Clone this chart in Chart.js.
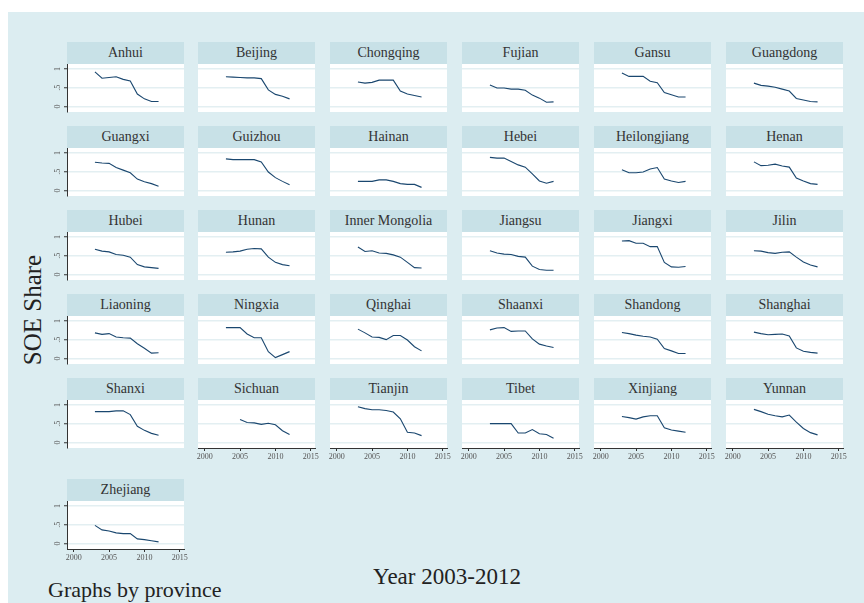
<!DOCTYPE html>
<html>
<head>
<meta charset="utf-8">
<script src="https://cdn.jsdelivr.net/npm/chart.js@4"></script>
<style>
  body { margin: 0; background: #ffffff; width: 864px; height: 603px; overflow: hidden; font-family: "Liberation Serif", serif; }
  #graph { position: absolute; left: 8px; top: 12px; width: 856px; height: 591px; background: #dcedf1; }
  .ptitle { position: absolute; height: 22px; line-height: 22px; background: #c8e1e7; text-align: center; font-size: 14px; font-weight: normal; color: #333333; }
  .panel { position: absolute; }
  .lbl { position: absolute; color: #222; white-space: nowrap; font-weight: normal; }
</style>
</head>
<body>
<div id="graph"></div>
<div class="lbl" style="left:33px; top:310px; font-size:25px; transform: translate(-50%, -50%) rotate(-90deg);">SOE Share</div>
<div class="lbl" style="left:447px; top:577px; font-size:23px; transform: translate(-50%, -50%);">Year 2003-2012</div>
<div class="lbl" style="left:48px; top:590px; font-size:22px; transform: translateY(-50%);">Graphs by province</div>
<script>
const years = [2003, 2004, 2005, 2006, 2007, 2008, 2009, 2010, 2011, 2012];
const xTicks = [2000, 2005, 2010, 2015];
const yTicks = [0, 0.5, 1];

const provinces = ["Anhui", "Beijing", "Chongqing", "Fujian", "Gansu", "Guangdong",
  "Guangxi", "Guizhou", "Hainan", "Hebei", "Heilongjiang", "Henan",
  "Hubei", "Hunan", "Inner Mongolia", "Jiangsu", "Jiangxi", "Jilin",
  "Liaoning", "Ningxia", "Qinghai", "Shaanxi", "Shandong", "Shanghai",
  "Shanxi", "Sichuan", "Tianjin", "Tibet", "Xinjiang", "Yunnan", "Zhejiang"];

const anhui = [0.92, 0.75, 0.77, 0.79, 0.72, 0.68, 0.33, 0.20, 0.13, 0.13];
const beijing = [0.79, 0.78, 0.77, 0.76, 0.76, 0.74, 0.44, 0.32, 0.27, 0.20];
const chongqing = [0.65, 0.62, 0.64, 0.70, 0.70, 0.70, 0.41, 0.33, 0.29, 0.25];
const fujian = [0.57, 0.49, 0.49, 0.46, 0.46, 0.43, 0.30, 0.22, 0.11, 0.12];
const gansu = [0.89, 0.80, 0.80, 0.80, 0.67, 0.63, 0.37, 0.31, 0.25, 0.25];
const guangdong = [0.62, 0.56, 0.54, 0.51, 0.46, 0.41, 0.21, 0.17, 0.13, 0.12];
const guangxi = [0.75, 0.73, 0.72, 0.61, 0.54, 0.47, 0.30, 0.23, 0.18, 0.11];
const guizhou = [0.84, 0.82, 0.82, 0.82, 0.82, 0.76, 0.49, 0.34, 0.24, 0.15];
const hainan = [0.24, 0.24, 0.24, 0.28, 0.28, 0.24, 0.18, 0.16, 0.16, 0.08];
const hebei = [0.88, 0.86, 0.86, 0.77, 0.68, 0.62, 0.44, 0.25, 0.19, 0.24];
const heilongjiang = [0.55, 0.47, 0.47, 0.49, 0.57, 0.61, 0.30, 0.25, 0.21, 0.24];
const henan = [0.76, 0.66, 0.67, 0.70, 0.65, 0.62, 0.33, 0.25, 0.18, 0.16];
const hubei = [0.67, 0.62, 0.60, 0.53, 0.51, 0.46, 0.26, 0.20, 0.18, 0.16];
const hunan = [0.59, 0.60, 0.62, 0.67, 0.69, 0.68, 0.46, 0.32, 0.26, 0.23];
const innerMongolia = [0.73, 0.61, 0.63, 0.57, 0.56, 0.52, 0.46, 0.32, 0.18, 0.17];
const jiangsu = [0.63, 0.57, 0.54, 0.53, 0.48, 0.46, 0.22, 0.13, 0.11, 0.11];
const jiangxi = [0.89, 0.90, 0.83, 0.83, 0.74, 0.74, 0.32, 0.20, 0.19, 0.21];
const jilin = [0.63, 0.62, 0.58, 0.56, 0.59, 0.60, 0.46, 0.33, 0.25, 0.20];
const liaoning = [0.68, 0.64, 0.66, 0.57, 0.55, 0.54, 0.39, 0.27, 0.14, 0.15];
const ningxia = [0.82, 0.82, 0.82, 0.65, 0.55, 0.55, 0.18, 0.02, 0.10, 0.18];
const qinghai = [0.78, 0.68, 0.57, 0.56, 0.50, 0.61, 0.61, 0.49, 0.31, 0.20];
const shaanxi = [0.76, 0.81, 0.82, 0.72, 0.73, 0.73, 0.52, 0.38, 0.33, 0.29];
const shandong = [0.69, 0.66, 0.62, 0.59, 0.57, 0.51, 0.26, 0.20, 0.13, 0.13];
const shanghai = [0.70, 0.66, 0.63, 0.64, 0.65, 0.60, 0.28, 0.19, 0.16, 0.14];
const shanxi = [0.82, 0.82, 0.82, 0.84, 0.84, 0.74, 0.43, 0.32, 0.24, 0.19];
const sichuan = [null, null, 0.61, 0.53, 0.52, 0.48, 0.51, 0.47, 0.31, 0.21];
const tianjin = [0.95, 0.90, 0.87, 0.87, 0.85, 0.81, 0.63, 0.27, 0.25, 0.18];
const tibet = [0.50, 0.50, 0.50, 0.50, 0.25, 0.25, 0.34, 0.23, 0.21, 0.11];
const xinjiang = [0.69, 0.66, 0.62, 0.68, 0.71, 0.71, 0.39, 0.33, 0.30, 0.27];
const yunnan = [0.88, 0.82, 0.75, 0.71, 0.68, 0.73, 0.54, 0.37, 0.26, 0.20];
const zhejiang = [0.48, 0.36, 0.33, 0.28, 0.26, 0.26, 0.12, 0.10, 0.07, 0.04];

const series = [anhui, beijing, chongqing, fujian, gansu, guangdong,
  guangxi, guizhou, hainan, hebei, heilongjiang, henan,
  hubei, hunan, innerMongolia, jiangsu, jiangxi, jilin,
  liaoning, ningxia, qinghai, shaanxi, shandong, shanghai,
  shanxi, sichuan, tianjin, tibet, xinjiang, yunnan, zhejiang];

// panel grid
const colLeft = [67, 198, 330, 462, 594, 726];
const rowTop = [42, 126, 210, 294, 378, 479];
const plotW = 117, titleH = 22, plotH = 48;
const yAxisW = 30, xAxisH = 20, padRight = 14;

const plotBg = {
  id: 'plotBg',
  beforeDraw(chart) {
    const a = chart.chartArea, c = chart.ctx;
    c.save();
    c.fillStyle = '#ffffff';
    c.fillRect(a.left, a.top, a.right - a.left, a.bottom - a.top);
    c.restore();
  }
};

provinces.forEach((name, i) => {
  const col = i % 6, row = Math.floor(i / 6);
  const left = colLeft[col], top = rowTop[row];
  const showY = col === 0;
  const showX = i >= 25; // bottom panel of each column

  const t = document.createElement('div');
  t.className = 'ptitle';
  t.style.left = left + 'px';
  t.style.top = top + 'px';
  t.style.width = plotW + 'px';
  t.textContent = name;
  document.body.appendChild(t);

  const box = document.createElement('div');
  box.className = 'panel';
  box.style.left = (left - yAxisW) + 'px';
  box.style.top = (top + titleH) + 'px';
  box.style.width = (yAxisW + plotW + padRight) + 'px';
  box.style.height = (plotH + xAxisH) + 'px';
  const cv = document.createElement('canvas');
  box.appendChild(cv);
  document.body.appendChild(box);

  new Chart(cv.getContext('2d'), {
    type: 'line',
    data: {
      datasets: [{
        data: years.map((y, k) => ({ x: y, y: series[i][k] })),
        borderColor: '#1a476f',
        borderWidth: 1.1,
        pointRadius: 0,
        tension: 0,
        fill: false
      }]
    },
    options: {
      responsive: true,
      maintainAspectRatio: false,
      animation: false,
      layout: { padding: { left: 0, right: padRight, top: 0, bottom: 0 } },
      plugins: { legend: { display: false }, tooltip: { enabled: false }, title: { display: false } },
      scales: {
        x: {
          type: 'linear',
          min: 1999.05,
          max: 2015.6,
          afterBuildTicks: s => { s.ticks = xTicks.map(v => ({ value: v })); },
          afterFit: s => { s.height = xAxisH; s.paddingLeft = 0; s.paddingRight = 0; },
          grid: { display: showX, drawOnChartArea: false, drawTicks: true, tickLength: 3, color: '#333333' },
          border: { display: showX, color: '#333333', width: 1 },
          ticks: { display: showX, padding: 1, maxRotation: 0, minRotation: 0,
            color: '#555555', font: { family: 'Liberation Serif', size: 8 },
            callback: v => String(v) }
        },
        y: {
          min: -0.15,
          max: 1.13,
          afterBuildTicks: s => { s.ticks = yTicks.map(v => ({ value: v })); },
          afterFit: s => { s.width = yAxisW; s.paddingTop = 0; s.paddingBottom = 0; },
          grid: { display: true, drawOnChartArea: true, drawTicks: showY, tickLength: 3,
            color: '#e3eff2', lineWidth: 1.5, tickColor: '#333333', tickWidth: 1 },
          border: { display: showY, color: '#333333', width: 1 },
          ticks: { display: showY, padding: 3, minRotation: 90, maxRotation: 90, crossAlign: 'center',
            color: '#555555', font: { family: 'Liberation Serif', size: 8 },
            callback: v => (v === 0.5 ? '.5' : String(v)) }
        }
      }
    },
    plugins: [plotBg]
  });
});
</script>
</body>
</html>
